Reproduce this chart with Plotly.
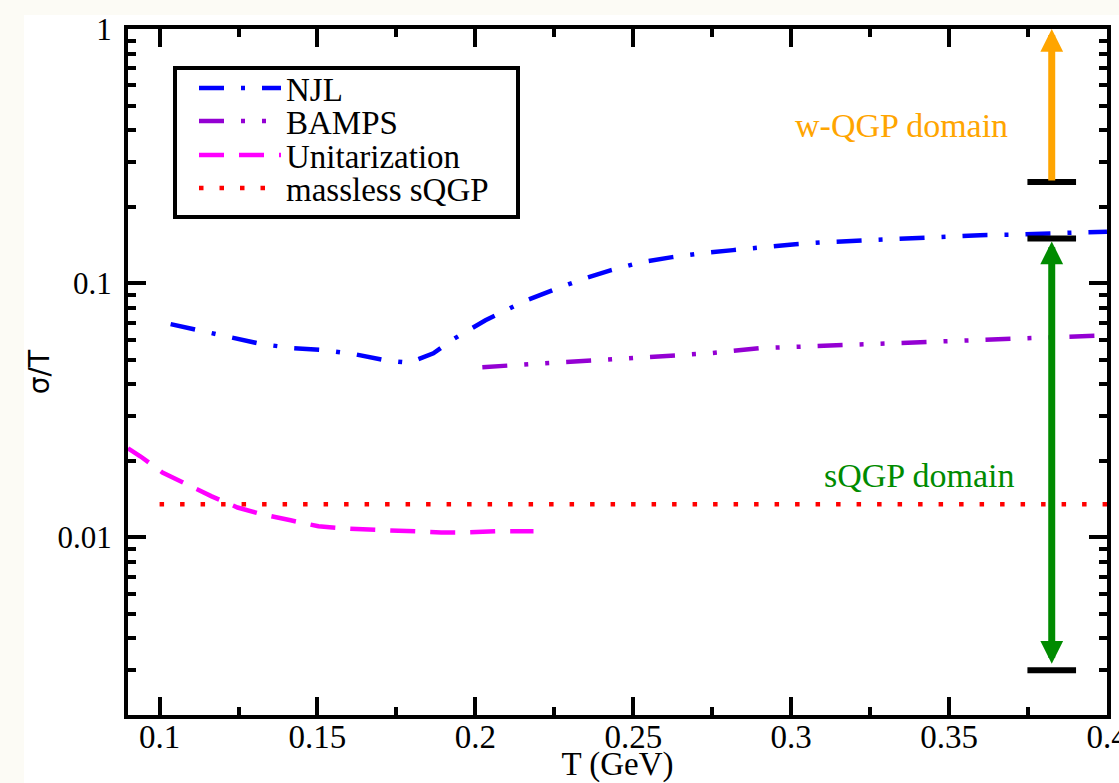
import math
import plotly.graph_objects as go

# ---------------- data ----------------
njl_T = [0.1035, 0.1136, 0.1230, 0.1326, 0.1424, 0.1522, 0.1620, 0.1715, 0.1790,
         0.1867, 0.1930, 0.1981, 0.2032, 0.2104, 0.2155, 0.2244, 0.2339, 0.2430,
         0.2525, 0.2623, 0.2718, 0.2816, 0.2911, 0.3013, 0.3111, 0.3209, 0.3304,
         0.3405, 0.3500, 0.3598, 0.3696, 0.3794, 0.3892, 0.4000]
njl_v = [0.0690, 0.0647, 0.0610, 0.0575, 0.0555, 0.0545, 0.0525, 0.0497, 0.0486,
         0.0530, 0.0602, 0.0653, 0.0715, 0.0790, 0.0849, 0.0938, 0.1037, 0.1125,
         0.1210, 0.1266, 0.1313, 0.1349, 0.1386, 0.1424, 0.1450, 0.1470, 0.1490,
         0.1510, 0.1531, 0.1545, 0.1552, 0.1573, 0.1580, 0.1595]

bamps_T = [0.2022, 0.2123, 0.2218, 0.2380, 0.2544, 0.2741, 0.2902, 0.3066,
           0.3263, 0.3424, 0.3589, 0.3785, 0.3946, 0.4000]
bamps_v = [0.0467, 0.0478, 0.0484, 0.0497, 0.0511, 0.0530, 0.0555, 0.0565,
           0.0580, 0.0588, 0.0602, 0.0613, 0.0621, 0.0624]

unit_T = [0.0900, 0.0940, 0.1009, 0.1082, 0.1165, 0.1247, 0.1326, 0.1415,
          0.1503, 0.1604, 0.1709, 0.1801, 0.1892, 0.1972, 0.2063, 0.2184]
unit_v = [0.0224, 0.0208, 0.0180, 0.0162, 0.0145, 0.0131, 0.0123, 0.01167,
          0.01105, 0.0108, 0.01066, 0.01051, 0.01046, 0.01046, 0.01056, 0.01056]

sqgp_T = [0.1, 0.4]
sqgp_v = [0.0135, 0.0135]

# domain markers (T position, bar extent, sigma/T limits)
domain_T = 0.3825
domain_bar_T = [0.3748, 0.3902]
sqgp_domain = [0.003, 0.15]
wqgp_domain = [0.25, 1.0]

x_ticks = [0.1, 0.15, 0.2, 0.25, 0.3, 0.35, 0.4]
x_ticktext = ["0.1", "0.15", "0.2", "0.25", "0.3", "0.35", "0.4"]
x_minor = [0.125, 0.175, 0.225, 0.275, 0.325, 0.375]
y_ticks = [0.01, 0.1, 1]
y_ticktext = ["0.01", "0.1", "1"]
y_minor = [m * 10.0 ** e for e in (-3, -2, -1) for m in range(2, 10)]

SERIF = "Liberation Serif"
W, H = 1119, 783
ML, MR, MT, MB = 128, 12, 29, 68
PW, PH = W - ML - MR, H - MT - MB


def px2paper_x(px):
    return (px - ML) / PW


def px2paper_y(py):
    return (H - MB - py) / PH


fig = go.Figure()

fig.add_trace(go.Scatter(x=njl_T, y=njl_v, mode="lines", name="NJL", legend="legend",
                         line=dict(color="#0000ff", width=4.5, dash="25px,17px,4px,17px")))
fig.add_trace(go.Scatter(x=bamps_T, y=bamps_v, mode="lines", name="BAMPS", legend="legend2",
                         line=dict(color="#9400d3", width=4.5,
                                   dash="25px,17px,4px,17px,4px,17px")))
fig.add_trace(go.Scatter(x=unit_T, y=unit_v, mode="lines", name="Unitarization", legend="legend3",
                         line=dict(color="#ff00ff", width=4.5, dash="25px,15px")))
fig.add_trace(go.Scatter(x=sqgp_T, y=sqgp_v, mode="lines", name="massless sQGP", legend="legend4",
                         line=dict(color="#ff0000", width=4.5, dash="4.5px,16px")))

legend_rows = [88, 121, 155, 188]
legend_common = dict(font=dict(family=SERIF, size=33, color="black"),
                     bgcolor="rgba(0,0,0,0)", borderwidth=0, xanchor="left",
                     yanchor="middle", itemwidth=82, x=px2paper_x(194))
legends = {}
for i, row in enumerate(legend_rows):
    key = "legend" if i == 0 else f"legend{i + 1}"
    legends[key] = dict(legend_common, y=px2paper_y(row))

shapes = [
    # page white area
    dict(type="rect", xref="paper", yref="paper", layer="below",
         x0=px2paper_x(24), x1=px2paper_x(W + 5), y0=px2paper_y(H + 5), y1=px2paper_y(15),
         fillcolor="white", line=dict(width=0)),
    # legend box
    dict(type="rect", xref="paper", yref="paper", layer="above",
         x0=px2paper_x(175), x1=px2paper_x(518), y0=px2paper_y(217), y1=px2paper_y(68),
         line=dict(color="black", width=4)),
]
for v in [sqgp_domain[0], sqgp_domain[1], wqgp_domain[0]]:
    shapes.append(dict(type="line", xref="x", yref="y",
                       x0=domain_bar_T[0], x1=domain_bar_T[1], y0=v, y1=v,
                       line=dict(color="black", width=6)))

annotations = [
    dict(x=domain_T, y=math.log10(wqgp_domain[1]), ax=domain_T, ay=math.log10(wqgp_domain[0]),
         xref="x", yref="y", axref="x", ayref="y", text="", showarrow=True,
         arrowhead=2, arrowsize=0.65, arrowwidth=7, arrowcolor="#ffa500"),
    dict(x=domain_T, y=math.log10(sqgp_domain[1]), ax=domain_T, ay=math.log10(sqgp_domain[0]),
         xref="x", yref="y", axref="x", ayref="y", text="", showarrow=True,
         arrowside="end+start", arrowhead=2, startarrowhead=2, arrowsize=0.65,
         startarrowsize=0.65, arrowwidth=7, arrowcolor="#008b00", standoff=3, startstandoff=5),
    dict(x=0.3348, y=-0.378, xref="x", yref="y", text="w-QGP domain", showarrow=False,
         font=dict(family=SERIF, size=34, color="#ffa500")),
    dict(x=0.3405, y=-1.756, xref="x", yref="y", text="sQGP domain", showarrow=False,
         font=dict(family=SERIF, size=34, color="#008b00")),
]

axis_common = dict(showline=True, linewidth=4, linecolor="black", mirror="allticks",
                   ticks="inside", ticklen=18, tickwidth=4, tickcolor="black",
                   showgrid=False, zeroline=False, ticklabeloverflow="allow")

fig.update_layout(
    width=W, height=H,
    margin=dict(l=ML, r=MR, t=MT, b=MB, autoexpand=False),
    paper_bgcolor="#fcfbf5", plot_bgcolor="white",
    xaxis=dict(axis_common, range=[0.09, 0.4], tickmode="array", tickvals=x_ticks,
               ticktext=x_ticktext, ticklabelstandoff=-11,
               tickfont=dict(family=SERIF, size=33, color="black"),
               minor=dict(ticks="inside", ticklen=8, tickwidth=4, tickcolor="black",
                          tickmode="array", tickvals=x_minor),
               title=dict(text="T (GeV)", font=dict(family=SERIF, size=33, color="black"),
                          standoff=21)),
    yaxis=dict(axis_common, type="log", range=[math.log10(0.002), 0], tickmode="array",
               tickvals=y_ticks, ticktext=y_ticktext, ticklabelstandoff=6,
               tickfont=dict(family=SERIF, size=31, color="black"),
               minor=dict(ticks="inside", ticklen=8, tickwidth=4, tickcolor="black",
                          tickmode="array", tickvals=y_minor),
               title=dict(text="σ/T", font=dict(family="DejaVu Sans", size=28, color="black"),
                          standoff=1)),
    shapes=shapes,
    annotations=annotations,
    showlegend=True,
    **legends,
)

fig.write_html("out.html", config={"displayModeBar": False},
               post_script="document.body.style.margin='0px';")
